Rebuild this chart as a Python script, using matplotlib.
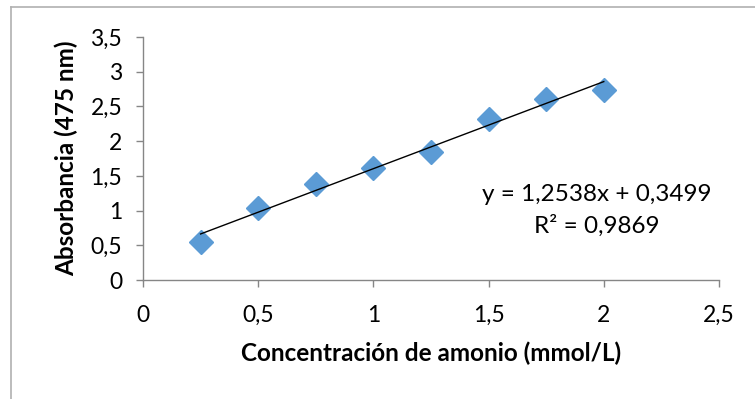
import numpy as np
import matplotlib
matplotlib.use("Agg")
import matplotlib.pyplot as plt
from matplotlib.lines import Line2D

plt.rcParams['font.family'] = ['Lato', 'DejaVu Sans']

# datos de la curva de calibración
concentracion = [0.25, 0.5, 0.75, 1.0, 1.25, 1.5, 1.75, 2.0]
absorbancia = [0.55, 1.04, 1.38, 1.61, 1.84, 2.32, 2.61, 2.74]
pendiente = 1.2538
intercepto = 0.3499
r2 = 0.9869

x_ticks = [0, 0.5, 1, 1.5, 2, 2.5]
y_ticks = [0, 0.5, 1, 1.5, 2, 2.5, 3, 3.5]

def coma(v):
    s = f"{v:g}"
    return s.replace(".", ",")

fig = plt.figure(figsize=(7.55, 3.99), dpi=100)
ax = fig.add_axes([0.1894, 0.2982, 0.7629, 0.6091])

ax.plot(concentracion, absorbancia, linestyle="none", marker="D",
        markersize=12.5, color="#5B9BD5", zorder=3)

# línea de tendencia
xl = np.array([concentracion[0], concentracion[-1]])
ax.plot(xl, pendiente * xl + intercepto, color="black", lw=1.0, zorder=4)

ax.text(0.788, 0.35, f"y = {coma(pendiente)}x + {coma(intercepto)}",
        transform=ax.transAxes, ha="center", va="center", fontsize=17.5)
ax.text(0.788, 0.222, f"R² = {coma(r2)}",
        transform=ax.transAxes, ha="center", va="center", fontsize=17.5)

ax.set_xlim(0, 2.5)
ax.set_ylim(0, 3.5)
ax.set_xticks(x_ticks)
ax.set_yticks(y_ticks)
ax.set_xticklabels([coma(v) for v in x_ticks])
ax.set_yticklabels([coma(v) for v in y_ticks])

for s in ["top", "right"]:
    ax.spines[s].set_visible(False)
for s in ["left", "bottom"]:
    ax.spines[s].set_color("#868686")
    ax.spines[s].set_linewidth(1.0)
ax.tick_params(length=5, width=1.0, color="#868686", labelsize=16.5)
ax.tick_params(axis="x", pad=13)
ax.tick_params(axis="y", pad=10)

ax.set_xlabel("Concentración de amonio (mmol/L)", fontsize=17.5,
              fontweight="bold", labelpad=11)
ax.set_ylabel("Absorbancia (475 nm)", fontsize=17.5, fontweight="bold",
              labelpad=9)

# borde del área del gráfico
fig.add_artist(Line2D([11 / 755, 11 / 755], [0, 1 - 7 / 399],
                      transform=fig.transFigure, color="#B0B0B0", lw=1.2))
fig.add_artist(Line2D([11 / 755, 1], [1 - 7 / 399, 1 - 7 / 399],
                      transform=fig.transFigure, color="#B0B0B0", lw=1.2))

fig.savefig("out.png", dpi=100)
